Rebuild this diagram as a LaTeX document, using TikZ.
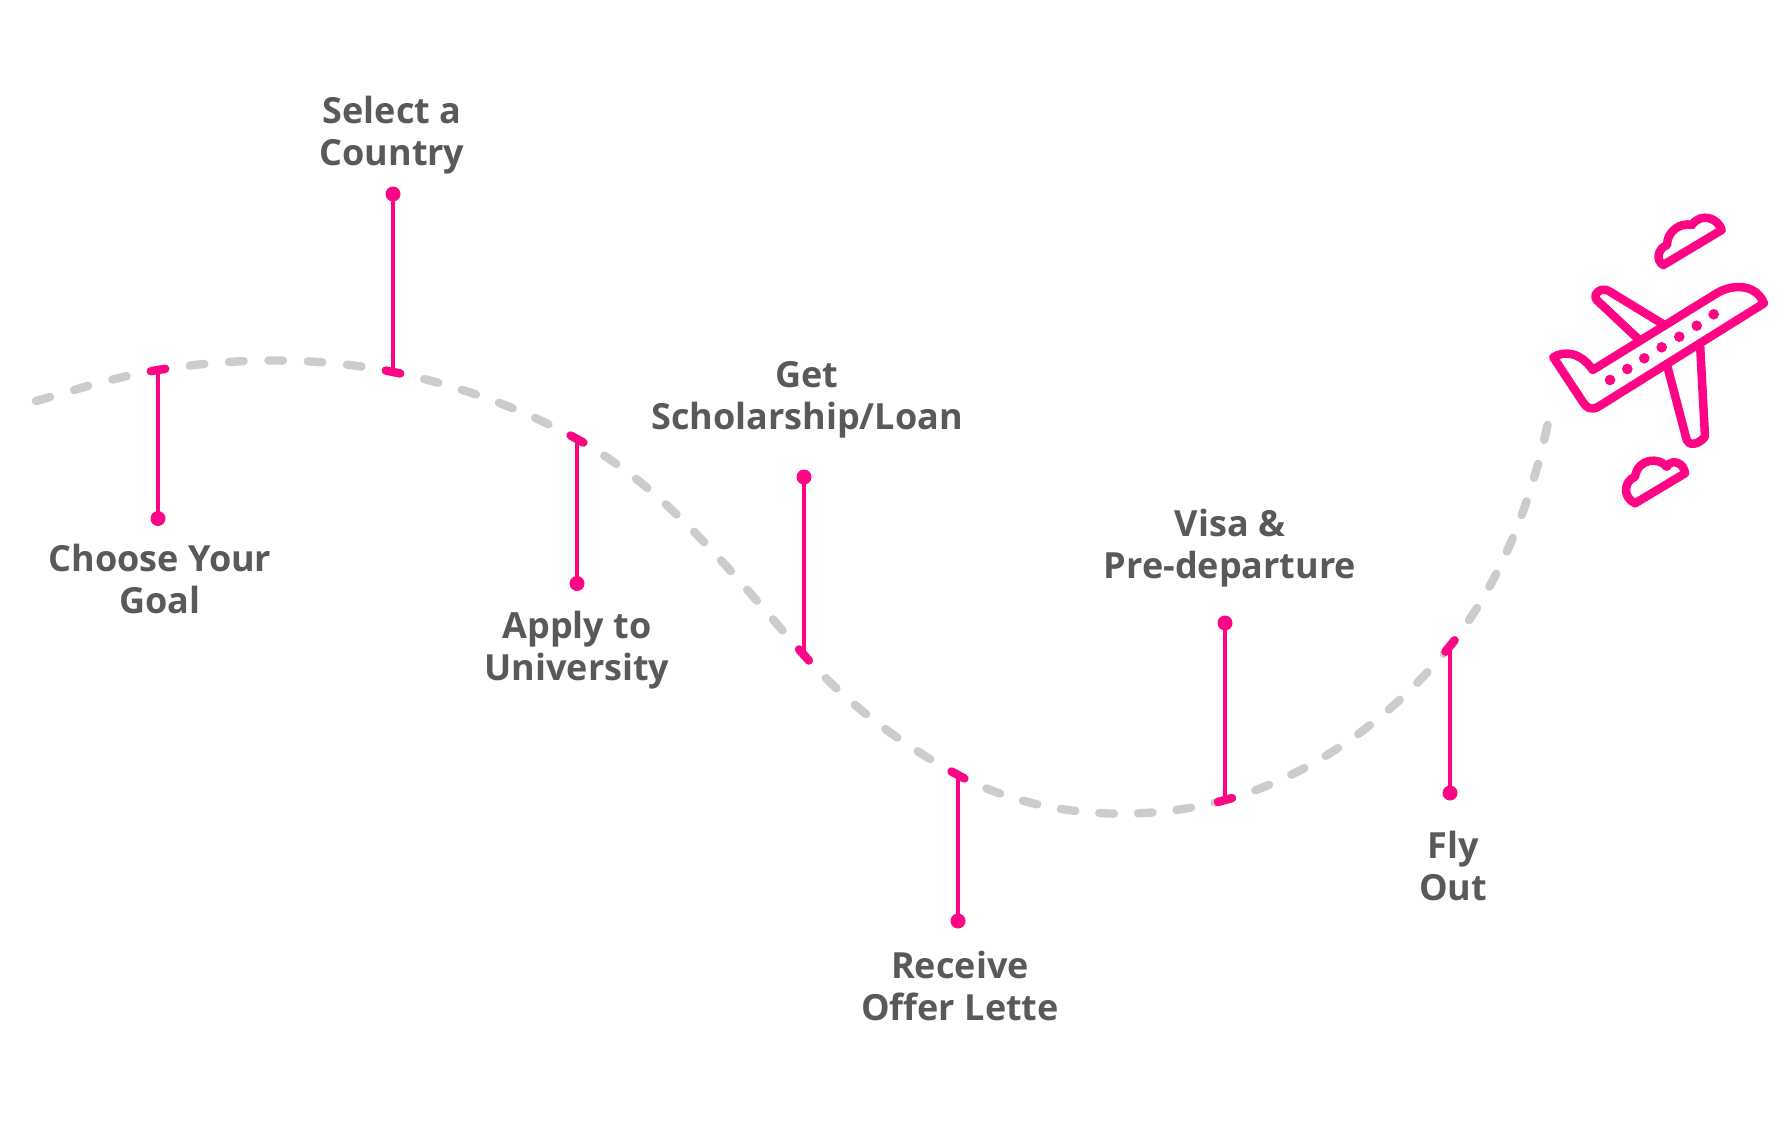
\documentclass[tikz,border=0pt]{standalone}
\usepackage{fontspec}
\setmainfont{Open Sans}
\definecolor{pk}{HTML}{FF0585}
\definecolor{dg}{HTML}{CCCCCC}
\definecolor{tx}{HTML}{58595B}
\begin{document}
\begin{tikzpicture}[x=1pt,y=-1pt,
  routeseg/.style={draw=dg,line width=8.4pt,line cap=round,dash pattern=on 14.6pt off #1,dash phase=7.3pt},
  routeend/.style={draw=dg,line width=8.4pt,line cap=round},
  tickpink/.style={draw=pk,line width=8.4pt,line cap=round},
  conn/.style={draw=pk,line width=3.5pt},
  dot/.style={circle,fill=pk,minimum size=15pt,inner sep=0pt},
  lbl/.style={text=tx,font=\fontsize{36}{42.5}\selectfont\bfseries,align=center,inner sep=0pt},
  planeline/.style={draw=pk,line width=8.5pt,line join=round,line cap=round},
  window/.style={circle,fill=pk,minimum size=10.6pt,inner sep=0pt}]
\fill[white] (0,0) rectangle (1792,1132);
\useasboundingbox (0,0) rectangle (1792,1132);

% route points
\coordinate (s0) at (36,401);
\coordinate (S) at (43,399);
\coordinate (T1) at (158,370);
\coordinate (T2) at (393,372);
\coordinate (T3) at (577,439);
\coordinate (T4) at (804,655);
\coordinate (T5) at (958,775);
\coordinate (T6) at (1225,800);
\coordinate (T7) at (1450,646);
\coordinate (E) at (1546,432);
\coordinate (e1) at (1547.6,424.9);

% dashed route
\draw[routeend] (s0) -- (S);
\draw[routeseg=25.1pt] (S) .. controls (80.9,388) and (119,376.3) .. (T1);
\draw[routeseg=24.8pt] (T1) .. controls (235.3,357.5) and (316.2,356.5) .. (T2);
\draw[routeseg=24.7pt] (T2) .. controls (457,384.9) and (519.8,407.4) .. (T3);
\draw[routeseg=24.7pt] (T3) .. controls (668.4,489.5) and (734.8,576.8) .. (T4);
\draw[routeseg=24.6pt] (T4) .. controls (847.1,703.7) and (900.7,744.1) .. (T5);
\draw[routeseg=24.1pt] (T5) .. controls (1036.7,817.5) and (1138.8,823.6) .. (T6);
\draw[routeseg=24.6pt] (T6) .. controls (1312.7,776) and (1393.1,716.9) .. (T7);
\draw[routeseg=24.7pt] (T7) .. controls (1499,585) and (1528.7,508.3) .. (E);
\draw[routeend] (E) -- (e1);

% pink ticks on the route
\draw[tickpink,shift={(T1)},rotate=9.2] (-7.3,0) -- (7.3,0);
\draw[tickpink,shift={(T2)},rotate=-11.4] (-7.3,0) -- (7.3,0);
\draw[tickpink,shift={(T3)},rotate=-28.9] (-7.3,0) -- (7.3,0);
\draw[tickpink,shift={(T4)},rotate=-48.5] (-7.3,0) -- (7.3,0);
\draw[tickpink,shift={(T5)},rotate=-28.4] (-7.3,0) -- (7.3,0);
\draw[tickpink,shift={(T6)},rotate=15.3] (-7.3,0) -- (7.3,0);
\draw[tickpink,shift={(T7)},rotate=51.2] (-7.3,0) -- (7.3,0);

% dots and connectors
\node[dot] (d1) at (T1 |- 0,518.5) {};
\node[dot] (d2) at (T2 |- 0,194) {};
\node[dot] (d3) at (T3 |- 0,583.5) {};
\node[dot] (d4) at (T4 |- 0,477) {};
\node[dot] (d5) at (T5 |- 0,921) {};
\node[dot] (d6) at (T6 |- 0,623) {};
\node[dot] (d7) at (T7 |- 0,793) {};
\draw[conn] (d1.center) -- (T1);
\draw[conn] (d2.center) -- (T2);
\draw[conn] (d3.center) -- (T3);
\draw[conn] (d4.center) -- (T4);
\draw[conn] (d5.center) -- (T5);
\draw[conn] (d6.center) -- (T6);
\draw[conn] (d7.center) -- (T7);

% labels (anchor = baseline of the second line)
\node[lbl,anchor=base] (t1) at (160,613.5) {Choose Your\\Goal};
\node[lbl,anchor=base] (t2) at (392,165.5) {Select a\\Country};
\node[lbl,anchor=base] (t3) at (577,680.5) {Apply to\\University};
\node[lbl,anchor=base] (t4) at (807,429.5) {Get\\Scholarship/Loan};
\node[lbl,anchor=base] (t5) at (960,1020.5) {Receive\\Offer Lette};
\node[lbl,anchor=base] (t6) at (1230,578.5) {Visa \&\\Pre-departure};
\node[lbl,anchor=base] (t7) at (1453,900.5) {Fly\\Out};

% plane
\draw[planeline] (1553.3,357.3) .. controls (1563,351) and (1580,351) .. (1592.7,370)
  -- (1716.7,293.3) .. controls (1730,285) and (1755,282) .. (1764,303.3)
  -- (1598.3,406.7) .. controls (1591,411) and (1586,407) .. (1583.3,402.7) -- cycle;
\draw[planeline] (1640,340.7) -- (1596.7,300) .. controls (1592,294) and (1601,287) .. (1608.3,290.7) -- (1665,325.3);
\draw[planeline] (1666.7,364) -- (1686.7,440) .. controls (1689,446) and (1698,445) .. (1705,436.7) -- (1700,343.2);
\node[window] (w1) at (1610,380) {};
\node[window] (w2) at (1627.3,369) {};
\node[window] (w3) at (1644.3,358.3) {};
\node[window] (w4) at (1661.7,347.3) {};
\node[window] (w5) at (1679.3,336.7) {};
\node[window] (w6) at (1696.7,325.7) {};
\node[window] (w7) at (1713.7,314.3) {};

% clouds
\draw[planeline] (1663.3,265) -- (1721.7,230)
  .. controls (1718,218) and (1701,212) .. (1692,225)
  .. controls (1681,222) and (1667,231) .. (1667,245)
  .. controls (1657,249) and (1656,261) .. (1663.3,265) -- cycle;
\draw[planeline] (1635,503.3) -- (1685,473.3)
  .. controls (1684,463) and (1672,458) .. (1666.7,466.7)
  .. controls (1659,457) and (1638,458) .. (1635,476.7)
  .. controls (1624,481) and (1622,497) .. (1635,503.3) -- cycle;
\end{tikzpicture}
\end{document}
